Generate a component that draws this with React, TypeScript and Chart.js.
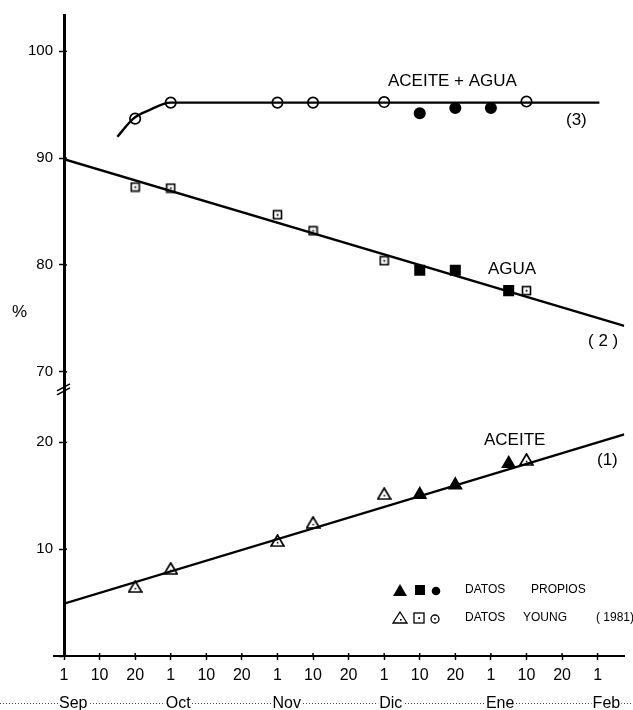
import { useEffect, useRef } from "react";
import { Chart, registerables } from "chart.js";
Chart.register(...registerables);

// x = index of 10-day period: 0 = 1 Sep, 1 = 10 Sep, 2 = 20 Sep, 3 = 1 Oct ... 15 = 1 Feb
const xTickLabels = ["1", "10", "20", "1", "10", "20", "1", "10", "20", "1", "10", "20", "1", "10", "20", "1"];
const monthLabels = ["Sep", "Oct", "Nov", "Dic", "Ene", "Feb"];
const monthTickIdx = [0, 3, 6, 9, 12, 15];

const upperTicks = [70, 80, 90, 100];
const lowerTicks = [0, 10, 20];

// (1) ACEITE
const aceiteLineX = [0, 15.75];
const aceiteLineY = [4.9, 20.75];
const aceiteYoungX = [2, 3, 6, 7, 9, 13];
const aceiteYoungY = [6.5, 8.2, 10.8, 12.5, 15.2, 18.4];
const aceitePropiosX = [10, 11, 12.5];
const aceitePropiosY = [15.1, 16.0, 18.0];

// (2) AGUA
const aguaLineX = [0, 15.75];
const aguaLineY = [89.9, 74.3];
const aguaYoungX = [2, 3, 6, 7, 9, 13];
const aguaYoungY = [87.3, 87.2, 84.7, 83.2, 80.4, 77.6];
const aguaPropiosX = [10, 11, 12.5];
const aguaPropiosY = [79.5, 79.5, 77.6];

// (3) ACEITE + AGUA
const totalLineX = [1.5, 1.95, 2.4, 3, 15.05];
const totalLineY = [92.0, 93.7, 94.5, 95.2, 95.2];
const totalYoungX = [2, 3, 6, 7, 9, 13];
const totalYoungY = [93.7, 95.2, 95.2, 95.2, 95.25, 95.3];
const totalPropiosX = [10, 11, 12];
const totalPropiosY = [94.2, 94.7, 94.7];

const pts = (xs: number[], ys: number[]) => xs.map((x, i) => ({ x, y: ys[i] }));

export default function App() {
  const ref = useRef<HTMLCanvasElement>(null);
  useEffect(() => {
    const canvas = ref.current!;
    const FONT = "'Liberation Sans', Arial, sans-serif";
    const makeImg = (w: number, h: number, draw: (g: CanvasRenderingContext2D) => void) => {
      const c = document.createElement("canvas");
      c.width = w;
      c.height = h;
      draw(c.getContext("2d")!);
      return c;
    };
    const sqDot = makeImg(11, 11, (g) => {
      g.strokeStyle = "#000";
      g.lineWidth = 1.6;
      g.strokeRect(1.5, 1.5, 8, 8);
      g.fillStyle = "#000";
      g.fillRect(4.7, 4.7, 1.8, 1.8);
    });
    const triDot = makeImg(15, 13, (g) => {
      g.strokeStyle = "#000";
      g.lineWidth = 1.7;
      g.beginPath();
      g.moveTo(7.5, 1);
      g.lineTo(14, 12);
      g.lineTo(1, 12);
      g.closePath();
      g.stroke();
      g.fillStyle = "#000";
      g.fillRect(6.8, 7.8, 1.6, 1.6);
    });

    const lineDs = (xs: number[], ys: number[], axis: string, extra: any = {}) => ({
      data: pts(xs, ys),
      yAxisID: axis,
      borderColor: "#000",
      borderWidth: 2.4,
      pointRadius: 0,
      showLine: true,
      fill: false,
      order: 10,
      ...extra,
    });
    const markDs = (xs: number[], ys: number[], axis: string, style: any, radius: number, filled: boolean) => ({
      data: pts(xs, ys),
      yAxisID: axis,
      showLine: false,
      pointStyle: style,
      pointRadius: radius,
      pointBorderWidth: 1.7,
      pointBorderColor: "#000",
      pointBackgroundColor: filled ? "#000" : "rgba(0,0,0,0)",
      borderColor: "#000",
      order: 1,
    });

    const extras = {
      id: "extras",
      afterDraw(chart: any) {
        const ctx = chart.ctx as CanvasRenderingContext2D;
        const xs = chart.scales.x;
        const yUp = chart.scales.yUp;
        const yLow = chart.scales.yLow;
        const ax = chart.chartArea.left;
        const ay = chart.chartArea.bottom;
        ctx.save();
        ctx.strokeStyle = "#000";
        ctx.fillStyle = "#000";
        // x axis extension to the left
        ctx.lineWidth = 2;
        ctx.beginPath();
        ctx.moveTo(53, ay);
        ctx.lineTo(ax, ay);
        ctx.stroke();
        // tick marks above x axis
        ctx.lineWidth = 1.5;
        for (let i = 0; i < xTickLabels.length; i++) {
          const px = xs.getPixelForValue(i);
          ctx.beginPath();
          ctx.moveTo(px, ay);
          ctx.lineTo(px, ay - 3);
          ctx.stroke();
        }
        // tick marks right of y axis
        upperTicks.forEach((v) => {
          const py = yUp.getPixelForValue(v);
          ctx.beginPath();
          ctx.moveTo(ax, py);
          ctx.lineTo(ax + 3, py);
          ctx.stroke();
        });
        lowerTicks.slice(1).forEach((v) => {
          const py = yLow.getPixelForValue(v);
          ctx.beginPath();
          ctx.moveTo(ax, py);
          ctx.lineTo(ax + 3, py);
          ctx.stroke();
        });
        // axis break
        const by = Math.min(yLow.top, yUp.bottom);
        ctx.lineWidth = 1.6;
        ctx.beginPath();
        ctx.moveTo(ax - 7, by + 2);
        ctx.lineTo(ax + 6, by - 5);
        ctx.moveTo(ax - 7, by + 6);
        ctx.lineTo(ax + 6, by - 1);
        ctx.stroke();

        // texts
        ctx.textBaseline = "middle";
        ctx.textAlign = "left";
        ctx.font = `17px ${FONT}`;
        ctx.fillText("ACEITE + AGUA", 388, 81);
        ctx.fillText("(3)", 566, 120);
        ctx.fillText("AGUA", 488, 269);
        ctx.fillText("( 2 )", 588, 341);
        ctx.fillText("ACEITE", 484, 440);
        ctx.fillText("(1)", 597, 460);
        ctx.fillText("%", 12, 312);

        // legend
        const r1 = 590;
        const r2 = 618;
        ctx.beginPath();
        ctx.moveTo(400, r1 - 6);
        ctx.lineTo(407, r1 + 6);
        ctx.lineTo(393, r1 + 6);
        ctx.closePath();
        ctx.fill();
        ctx.fillRect(415, r1 - 5, 10, 10);
        ctx.beginPath();
        ctx.arc(436, r1 + 1, 4.3, 0, Math.PI * 2);
        ctx.fill();
        ctx.lineWidth = 1.3;
        ctx.beginPath();
        ctx.moveTo(400, r2 - 6);
        ctx.lineTo(407, r2 + 5);
        ctx.lineTo(393, r2 + 5);
        ctx.closePath();
        ctx.stroke();
        ctx.fillRect(400, r2 + 1, 1.6, 1.6);
        ctx.strokeRect(414, r2 - 5, 10, 10);
        ctx.fillRect(418.3, r2 - 0.8, 1.8, 1.8);
        ctx.beginPath();
        ctx.arc(435, r2 + 1, 4, 0, Math.PI * 2);
        ctx.stroke();
        ctx.fillRect(434.2, r2 + 0.2, 1.6, 1.6);
        ctx.font = `12px ${FONT}`;
        ctx.fillText("DATOS", 465, r1);
        ctx.fillText("PROPIOS", 531, r1);
        ctx.fillText("DATOS", 465, r2);
        ctx.fillText("YOUNG", 523, r2);
        ctx.fillText("( 1981)", 596, r2);

        // month labels with dotted guide line
        ctx.lineWidth = 1;
        ctx.strokeStyle = "#444";
        ctx.setLineDash([1, 2]);
        ctx.beginPath();
        ctx.moveTo(0, 703.5);
        ctx.lineTo(chart.width, 703.5);
        ctx.stroke();
        ctx.setLineDash([]);
        ctx.font = `16px ${FONT}`;
        ctx.textBaseline = "alphabetic";
        monthLabels.forEach((m, i) => {
          const px = xs.getPixelForValue(monthTickIdx[i]) - 5;
          const w = ctx.measureText(m).width;
          ctx.fillStyle = "#fff";
          ctx.fillRect(px - 1, 694, w + 2, 16);
          ctx.fillStyle = "#000";
          ctx.fillText(m, px, 708);
        });
        ctx.restore();
      },
    };

    const yCommon = (ticks: number[]) => ({
      type: "linear",
      position: "left",
      stack: "y",
      border: { display: true, color: "#000", width: 3 },
      grid: { drawOnChartArea: false, drawTicks: true, tickLength: 5, color: "#000", tickWidth: 1.5 },
      afterBuildTicks: (s: any) => {
        s.ticks = ticks.map((v) => ({ value: v }));
      },
      afterFit: (s: any) => {
        s.width = 64;
      },
      ticks: {
        color: "#000",
        padding: 6,
        font: { family: FONT, size: 15 },
        callback: (v: number) => (v === 0 ? "" : String(v)),
      },
    });

    const chart = new Chart(canvas, {
      type: "line",
      data: {
        datasets: [
          lineDs(aceiteLineX, aceiteLineY, "yLow"),
          lineDs(aguaLineX, aguaLineY, "yUp"),
          lineDs(totalLineX, totalLineY, "yUp", { cubicInterpolationMode: "monotone" }),
          markDs(aceiteYoungX, aceiteYoungY, "yLow", triDot, 7, false),
          markDs(aceitePropiosX, aceitePropiosY, "yLow", "triangle", 7, true),
          markDs(aguaYoungX, aguaYoungY, "yUp", sqDot, 5, false),
          markDs(aguaPropiosX, aguaPropiosY, "yUp", "rect", 6.6, true),
          markDs(totalYoungX, totalYoungY, "yUp", "circle", 5.2, false),
          markDs(totalPropiosX, totalPropiosY, "yUp", "circle", 5.2, true),
        ] as any,
      },
      options: {
        responsive: false,
        animation: false,
        devicePixelRatio: 1,
        layout: { padding: { top: 15, left: 0, right: 0, bottom: 0 } },
        plugins: { legend: { display: false }, tooltip: { enabled: false } },
        events: [],
        scales: {
          x: {
            type: "linear",
            min: 0,
            max: 15.75,
            position: "bottom",
            border: { display: true, color: "#000", width: 2 },
            grid: { drawOnChartArea: false, drawTicks: true, tickLength: 4, color: "#000", tickWidth: 1.5 },
            afterBuildTicks: (s: any) => {
              s.ticks = xTickLabels.map((_, i) => ({ value: i }));
            },
            afterFit: (s: any) => {
              s.height = 54;
            },
            ticks: {
              autoSkip: false,
              maxRotation: 0,
              color: "#000",
              padding: 6,
              font: { family: FONT, size: 16 },
              callback: (v: number) => xTickLabels[Math.round(v)] ?? "",
            },
          },
          yLow: { ...yCommon(lowerTicks), min: 0, max: 25, stackWeight: 25 },
          yUp: { ...yCommon(upperTicks), min: 68.4, max: 103.4, stackWeight: 35 },
        } as any,
      },
      plugins: [extras],
    });
    return () => chart.destroy();
  }, []);
  return (
    <div style={{ position: "absolute", left: 0, top: 0, width: 633, height: 710 }}>
      <canvas ref={ref} width={633} height={710} style={{ display: "block" }} />
    </div>
  );
}
